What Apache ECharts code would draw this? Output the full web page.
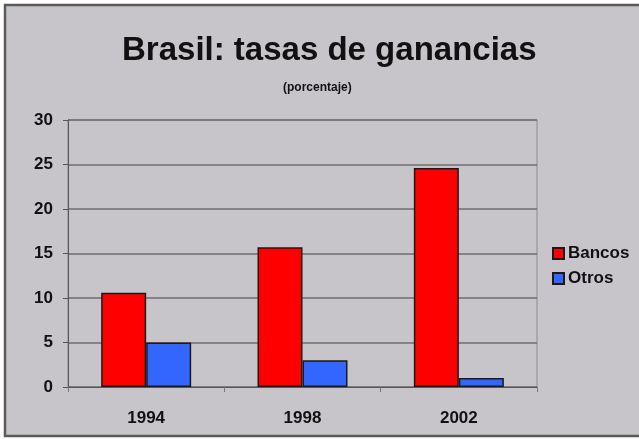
<!DOCTYPE html>
<html>
<head>
<meta charset="utf-8">
<script src="https://cdn.jsdelivr.net/npm/echarts@6/dist/echarts.min.js"></script>
<style>
html,body{margin:0;padding:0;background:#ffffff;}
#chart{width:639px;height:439px;}
</style>
</head>
<body>
<div id="chart"></div>
<script>
var categories = ['1994', '1998', '2002'];
var bancos = [10.6, 15.7, 24.6];
var otros = [5.0, 3.0, 1.0];
var seriesNames = ['Bancos', 'Otros'];
var titleText = 'Brasil: tasas de ganancias';
var subtitleText = '(porcentaje)';

var chart = echarts.init(document.getElementById('chart'), null, {renderer: 'canvas'});
var font = 'Arial, "Liberation Sans", sans-serif';
chart.setOption({
  backgroundColor: '#ffffff',
  animation: false,
  graphic: [{
    type: 'rect', z: -10, silent: true,
    shape: {x: 5, y: 5, width: 640, height: 431},
    style: {fill: '#c8c5ca', stroke: '#5a5a5a', lineWidth: 2.5}
  }],
  title: [{
    text: titleText, left: 117, top: 29,
    textStyle: {fontFamily: font, fontWeight: 'bold', fontSize: 33, color: '#111'}
  }, {
    text: subtitleText, left: 278, top: 77,
    textStyle: {fontFamily: font, fontWeight: 'bold', fontSize: 12, color: '#111'}
  }],
  legend: {
    orient: 'vertical', left: 552, top: 245, padding: 0,
    itemWidth: 11, itemHeight: 11, itemGap: 8,
    icon: 'rect',
    data: seriesNames,
    textStyle: {fontFamily: font, fontWeight: 'bold', fontSize: 17, color: '#111', padding: [0, 0, 0, -1]}
  },
  grid: {
    left: 68, right: 102, top: 120, bottom: 52,
    show: true, borderColor: '#8a8a8a', borderWidth: 1, backgroundColor: 'transparent'
  },
  xAxis: {
    type: 'category', data: categories,
    axisLine: {lineStyle: {color: '#555', width: 1}},
    axisTick: {show: true, length: 5, lineStyle: {color: '#777'}},
    axisLabel: {margin: 23, fontFamily: font, fontWeight: 'bold', fontSize: 17, color: '#111'}
  },
  yAxis: {
    type: 'value', min: 0, max: 30, interval: 5,
    axisLine: {show: true, lineStyle: {color: '#555', width: 1}},
    axisTick: {show: true, length: 5, lineStyle: {color: '#555'}},
    axisLabel: {margin: 15, fontFamily: font, fontWeight: 'bold', fontSize: 17, color: '#111'},
    splitLine: {show: true, lineStyle: {color: '#6e6e6e', width: 1.5}}
  },
  series: [{
    name: seriesNames[0], type: 'bar', data: bancos,
    barWidth: 45, barGap: '0%',
    itemStyle: {color: '#ff0000', borderColor: '#1a1a1a', borderWidth: 1.5}
  }, {
    name: seriesNames[1], type: 'bar', data: otros,
    barWidth: 45,
    itemStyle: {color: '#3366ff', borderColor: '#1a1a1a', borderWidth: 1.5}
  }]
});
</script>
</body>
</html>
